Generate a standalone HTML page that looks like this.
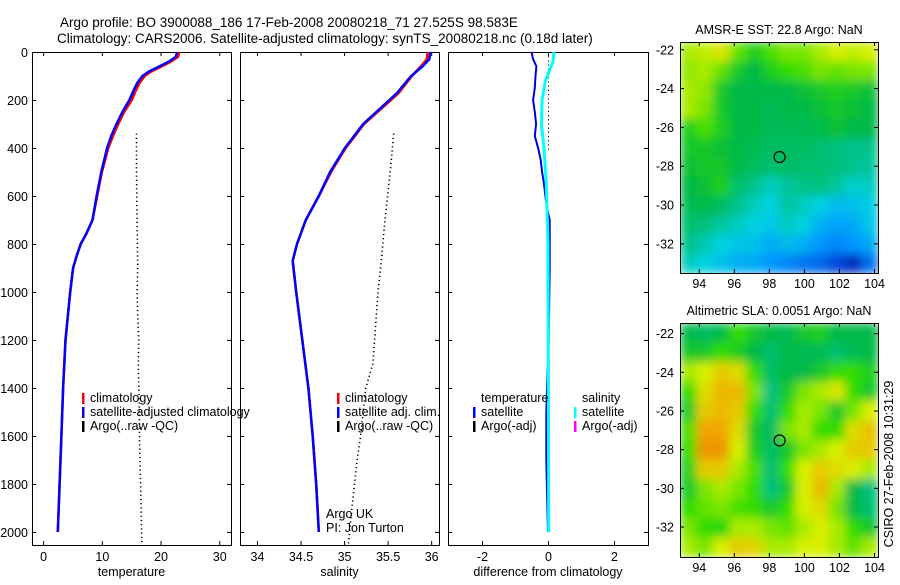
<!DOCTYPE html>
<html><head><meta charset="utf-8"><style>
html,body{margin:0;padding:0;background:#fff}
svg text{font-family:"Liberation Sans",sans-serif;fill:#000}
</style></head><body>
<svg id="fig" xmlns="http://www.w3.org/2000/svg" width="900" height="580" viewBox="0 0 900 580">
<defs>
<filter id="smooth" x="0" y="0" width="1" height="1"><feGaussianBlur stdDeviation="5" edgeMode="duplicate"/></filter>
<clipPath id="clipTop"><rect x="680" y="42" width="198" height="231"/></clipPath>
<clipPath id="clipBot"><rect x="680" y="323" width="198" height="234"/></clipPath>
</defs>
<text x="60" y="27" font-size="13.5">Argo profile: BO 3900088_186 17-Feb-2008 20080218_71 27.525S 98.583E</text>
<text x="57" y="43" font-size="13.5">Climatology: CARS2006. Satellite-adjusted climatology: synTS_20080218.nc (0.18d later)</text>
<text transform="translate(893,464) rotate(-90)" text-anchor="middle" font-size="12.5">CSIRO 27-Feb-2008 10:31:29</text>
</svg>
<script>
// ---- data ----
const depthTick = [0,200,400,600,800,1000,1200,1400,1600,1800,2000];
const tempClimDepth = [0,20,40,60,80,100,130,160,200,250,300,350,400,500,600,700,760,800,850,900,1000,1200,1400,1600,1800,2000];
const tempClim = [23.2,23.0,21.8,20.2,18.5,17.3,16.4,15.8,15.1,13.8,12.8,11.9,11.1,10.0,9.2,8.4,7.3,6.4,5.7,5.1,4.6,3.8,3.4,3.1,2.8,2.5];
const tempSat = [22.8,22.6,21.4,19.8,18.1,16.9,16.0,15.4,14.7,13.5,12.5,11.6,10.9,9.9,9.1,8.4,7.3,6.4,5.7,5.1,4.6,3.8,3.4,3.1,2.8,2.5];
const argoDepth = [340,500,700,900,1000,1100,1200,1300,1400,1500,1600,1700,1800,1900,2050];
const argoTemp = [15.9,15.9,16.0,16.1,16.0,16.1,16.3,16.2,16.3,16.4,16.4,16.5,16.6,16.7,16.8];
const salClimDepth = [0,30,60,100,170,200,300,400,500,600,700,800,870,1000,1200,1400,1600,1800,2000];
const salClim = [35.96,35.95,35.88,35.78,35.63,35.54,35.23,35.02,34.85,34.71,34.56,34.46,34.41,34.45,34.52,34.59,34.64,34.68,34.71];
const salSat = [35.99,35.98,35.90,35.77,35.61,35.52,35.22,35.01,34.84,34.71,34.56,34.46,34.41,34.45,34.52,34.59,34.64,34.68,34.71];
const argoSal = [35.57,35.53,35.47,35.42,35.39,35.37,35.35,35.33,35.25,35.22,35.19,35.15,35.12,35.09,35.05];
const dTempDepth = [0,30,60,100,150,200,250,300,350,400,450,500,550,600,650,700,900,1200,1500,1700,2000];
const dTemp = [-0.5,-0.45,-0.35,-0.38,-0.4,-0.45,-0.4,-0.36,-0.4,-0.3,-0.22,-0.18,-0.12,-0.08,-0.03,0.05,0.05,0.02,-0.05,-0.05,0.0];
const dSalDepth = [0,40,75,120,200,300,400,550,800,1200,2000];
const dSal = [0.18,0.15,0.05,-0.08,-0.18,-0.2,-0.12,-0.05,0,0.01,0.02];
const tempTicks = [0,10,20,30];
const salTicks = [34,34.5,35,35.5,36];
const diffTicks = [-2,0,2];
const lonTicks = [94,96,98,100,102,104];
const latTicks = [-22,-24,-26,-28,-30,-32];
const sstGrid = [
[.60,.61,.63,.57,.53,.56,.58,.58,.60,.62,.61,.62],
[.59,.60,.57,.52,.50,.53,.55,.56,.58,.57,.58,.58],
[.60,.59,.52,.50,.50,.50,.50,.51,.52,.53,.52,.51],
[.60,.58,.52,.50,.50,.49,.50,.50,.51,.52,.51,.50],
[.53,.56,.53,.50,.50,.49,.49,.49,.50,.51,.50,.50],
[.52,.52,.51,.50,.49,.48,.48,.48,.47,.46,.45,.45],
[.51,.52,.52,.50,.48,.47,.48,.47,.47,.46,.45,.44],
[.50,.51,.53,.47,.45,.42,.44,.45,.46,.44,.41,.42],
[.49,.50,.48,.45,.42,.40,.44,.42,.40,.36,.37,.39],
[.47,.46,.44,.42,.40,.38,.42,.40,.34,.32,.33,.38],
[.45,.43,.40,.38,.37,.34,.36,.34,.30,.28,.30,.33],
[.42,.40,.37,.34,.33,.30,.28,.26,.24,.20,.12,.25]];
const slaGrid = [
[.50,.48,.50,.55,.52,.50,.49,.52,.53,.50,.50,.50],
[.52,.52,.55,.53,.50,.47,.50,.49,.49,.47,.49,.50],
[.60,.62,.66,.64,.55,.48,.50,.50,.52,.55,.55,.53],
[.55,.64,.68,.68,.58,.46,.52,.58,.60,.63,.55,.52],
[.52,.66,.68,.66,.55,.47,.55,.60,.58,.52,.58,.62],
[.56,.70,.70,.64,.52,.48,.58,.60,.55,.55,.64,.67],
[.55,.72,.72,.62,.53,.48,.52,.58,.60,.62,.66,.66],
[.53,.66,.66,.60,.56,.47,.55,.62,.66,.64,.62,.60],
[.52,.58,.60,.58,.55,.46,.52,.62,.68,.60,.50,.46],
[.55,.57,.58,.56,.55,.52,.55,.62,.64,.58,.50,.47],
[.58,.55,.54,.60,.60,.58,.57,.60,.62,.60,.55,.52],
[.60,.58,.62,.66,.65,.60,.60,.62,.62,.60,.57,.60]];
const floatLon = 98.583, floatLat = -27.525;

// ---- drawing ----
const NS="http://www.w3.org/2000/svg", svg=document.getElementById('fig');
function el(tag,attrs,parent){const e=document.createElementNS(NS,tag);for(const k in attrs)e.setAttribute(k,attrs[k]);(parent||svg).appendChild(e);return e;}
const PT=52, PB=545;
const yD=d=>PT+d*0.24;

function panel(name,x0,x1,xmin,xmax,xticks,xlabel,yLabels){
  const g=el('g',{});
  
  
  const xs=v=>x0+(v-xmin)/(xmax-xmin)*(x1-x0);
  const f=el('rect',{x:x0+0.5,y:PT+0.5,width:x1-x0,height:PB-PT,fill:'none',stroke:'#000','stroke-width':1},g);
  
  
  depthTick.forEach(d=>{
    const y=yD(d)+0.5;
    el('line',{x1:x0,x2:x0+4,y1:y,y2:y,stroke:'#000'},g);
    el('line',{x1:x1-4,x2:x1,y1:y,y2:y,stroke:'#000'},g);
    if(yLabels){const t=el('text',{x:x0-4,y:y+4.5,'text-anchor':'end','font-size':12.5},g);t.textContent=d;
      
      }
  });
  xticks.forEach(v=>{
    const x=xs(v)+0.5;
    el('line',{x1:x,x2:x,y1:PT,y2:PT+4,stroke:'#000'},g);
    el('line',{x1:x,x2:x,y1:PB-4,y2:PB,stroke:'#000'},g);
    const t=el('text',{x:x,y:PB+16,'text-anchor':'middle','font-size':12.5},g);t.textContent=v;
    
    
  });
  const lb=el('text',{x:(x0+x1)/2,y:576,'text-anchor':'middle','font-size':12.5},g);lb.textContent=xlabel;
  
  
  return {g,xs};
}
function line(p,depths,vals,color,w,name,dash){
  const pts=depths.map((d,i)=>p.xs(vals[i]).toFixed(1)+','+yD(d).toFixed(1)).join(' ');
  const l=el('polyline',{points:pts,fill:'none',stroke:color,'stroke-width':w,'stroke-dasharray':dash||'none'},p.g);
  
  
}
function legend(p,x,y,color,label,name){
  el('rect',{x:x,y:y-9,width:2.5,height:11,fill:color},p.g);
  const t=el('text',{x:x+8,y:y,'font-size':12.5},p.g);t.textContent=label;
  
  
}
const p1=panel('temperature-panel',32,231,-1.9,32,tempTicks,'temperature',true);
line(p1,argoDepth,argoTemp,'#000',1.6,'argo-temperature','1.2 3');
line(p1,tempClimDepth,tempClim,'#f00',2.5,'climatology-temperature');
line(p1,tempClimDepth,tempSat,'#00f',2.5,'satellite-temperature');
legend(p1,82,402,'#f00','climatology','legend-climatology');
legend(p1,82,416,'#00f','satellite-adjusted climatology','legend-satellite');
legend(p1,82,430,'#000','Argo(..raw -QC)','legend-argo');

const p2=panel('salinity-panel',240,439,33.805,36.09,salTicks,'salinity',false);
line(p2,argoDepth,argoSal,'#000',1.6,'argo-salinity','1.2 3');
line(p2,salClimDepth,salClim,'#f00',2.5,'climatology-salinity');
line(p2,salClimDepth,salSat,'#00f',2.5,'satellite-salinity');
legend(p2,337,402,'#f00','climatology','legend-climatology');
legend(p2,337,416,'#00f','satellite adj. clim.','legend-satellite');
legend(p2,337,430,'#000','Argo(..raw -QC)','legend-argo');
const a1=el('text',{x:326,y:518,'font-size':12.5},p2.g);a1.textContent='Argo UK';


const a2=el('text',{x:326,y:532,'font-size':12.5},p2.g);a2.textContent='PI: Jon Turton';



const p3=panel('difference-panel',448,648,-3.03,3.03,diffTicks,'difference from climatology',false);
el('line',{x1:p3.xs(0)+0.5,x2:p3.xs(0)+0.5,y1:PT,y2:150,stroke:'#000','stroke-dasharray':'1.2 3'},p3.g);
line(p3,dTempDepth,dTemp,'#0000e0',2,'temperature-difference');
line(p3,dSalDepth,dSal,'#00ffff',3,'salinity-difference');
const t1=el('text',{x:481,y:402,'font-size':12.5},p3.g);t1.textContent='temperature';


const t2=el('text',{x:582,y:402,'font-size':12.5},p3.g);t2.textContent='salinity';


legend(p3,473,416,'#00f','satellite','legend-temp-satellite');
legend(p3,473,430,'#000','Argo(-adj)','legend-temp-argo');
legend(p3,574,416,'#00ffff','satellite','legend-sal-satellite');
legend(p3,574,430,'#ff00ff','Argo(-adj)','legend-sal-argo');

// maps
const cmapStops=[[0,[0,0,140]],[0.2,[0,70,220]],[0.3,[0,150,255]],[0.4,[0,210,225]],[0.45,[0,195,140]],[0.5,[0,185,70]],[0.55,[50,220,0]],[0.62,[215,240,0]],[0.7,[240,165,0]],[0.8,[230,80,0]],[1,[150,0,0]]];
function cmap(v){
  for(let i=1;i<cmapStops.length;i++){const [a,ca]=cmapStops[i-1],[b,cb]=cmapStops[i];
    if(v<=b){const t=(v-a)/(b-a);return 'rgb('+ca.map((c,k)=>Math.round(c+(cb[k]-c)*t)).join(',')+')';}}
  return 'rgb(150,0,0)';
}
function map(name,top,bot,lat0,lat1,grid,title,clip){
  const x0=680,x1=878,lon0=92.9,lon1=104.2;
  const g=el('g',{});
  
  
  const xs=v=>x0+(v-lon0)/(lon1-lon0)*(x1-x0);
  const ys=v=>top+(lat0-v)/(lat0-lat1)*(bot-top);
  const cg=el('g',{'clip-path':'url(#'+clip+')'},g);
  const hg=el('g',{filter:'url(#smooth)'},cg);
  const rows=grid.length,cols=grid[0].length,cw=(x1-x0)/cols,ch=(bot-top)/rows;
  grid.forEach((row,r)=>row.forEach((v,c)=>{
    const cell=el('rect',{x:x0+c*cw,y:top+r*ch,width:cw+0.6,height:ch+0.6,fill:cmap(v)},hg);
    
    
  }));
  el('rect',{x:x0+0.5,y:top+0.5,width:x1-x0,height:bot-top,fill:'none',stroke:'#000'},g);
  lonTicks.forEach(v=>{const x=xs(v);
    el('line',{x1:x,x2:x,y1:top,y2:top+4,stroke:'#000'},g);el('line',{x1:x,x2:x,y1:bot-4,y2:bot,stroke:'#000'},g);
    const t=el('text',{x:x,y:bot+15,'text-anchor':'middle','font-size':12.5},g);t.textContent=v;
    
    });
  latTicks.forEach(v=>{const y=ys(v);
    el('line',{x1:x0,x2:x0+4,y1:y,y2:y,stroke:'#000'},g);el('line',{x1:x1-4,x2:x1,y1:y,y2:y,stroke:'#000'},g);
    const t=el('text',{x:x0-6,y:y+4.5,'text-anchor':'end','font-size':12.5},g);t.textContent=v;
    
    });
  const m=el('circle',{cx:xs(floatLon),cy:ys(floatLat),r:5.5,fill:'none',stroke:'#000','stroke-width':1.2},g);
  
  
  const tt=el('text',{x:(x0+x1)/2,y:top-8,'text-anchor':'middle','font-size':12.5},g);tt.textContent=title;
  
  
}
map('sst-map',42,273,-21.6,-33.5,sstGrid,'AMSR-E SST: 22.8 Argo: NaN','clipTop');
map('sla-map',323,557,-21.45,-33.55,slaGrid,'Altimetric SLA: 0.0051 Argo: NaN','clipBot');
</script>
</body></html>
